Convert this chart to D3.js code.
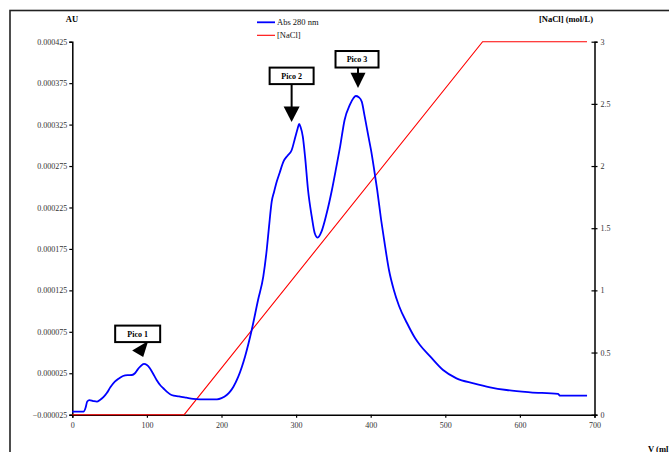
<!DOCTYPE html>
<html>
<head>
<meta charset="utf-8">
<script src="https://cdn.jsdelivr.net/npm/d3@7"></script>
<style>
  html, body { margin: 0; padding: 0; background: #fff; }
  svg { display: block; font-family: "Liberation Serif", "Times New Roman", serif; -webkit-font-smoothing: antialiased; }
</style>
</head>
<body>
<svg id="chart" width="669" height="452"></svg>
<script>
// Elution volume (mL) and absorbance at 280 nm (AU)
const volume = [0, 15, 18, 20, 23, 28, 33, 37, 42, 46, 51, 57, 63, 68, 74, 80, 84, 88, 91, 96,
  100, 104, 108, 113, 118, 122, 127, 133, 143, 153, 162, 171, 183, 194, 200, 207, 212, 216, 222.5, 231.5,
  240.5, 249, 256, 260.6, 263.7, 267.3, 270.5, 274, 278, 283, 289, 294, 298.5, 302, 304, 306, 309, 312,
  316, 321, 325, 329, 334, 341, 348, 354, 359, 365, 372, 377, 380, 384, 388, 392, 397, 400.4, 404.7, 408.7,
  414, 418, 424.5, 431, 438, 448.6, 459.4, 466, 480, 497, 515, 538, 560, 582, 614, 651, 654, 690];
const absorbance = [-0.0000214, -0.0000214, -0.000016, -0.000009, -0.0000073, -0.0000085, -0.0000093, -0.0000073, -0.0000035, 0.0000008,
  0.000008, 0.0000148, 0.000019, 0.0000217, 0.0000228, 0.0000229, 0.000025, 0.00003, 0.0000329, 0.0000362,
  0.000035, 0.000031, 0.000025, 0.0000169, 0.0000105, 0.0000069, 0.0000025, -0.0000012, -0.000003, -0.0000045,
  -0.0000058, -0.0000064, -0.0000066, -0.0000064, -0.000005, -0.0000012, 0.0000035, 0.0000088, 0.0000209, 0.000045,
  0.0000772, 0.0001134, 0.0001415, 0.0001737, 0.0002018, 0.000232, 0.000244, 0.000256, 0.000267, 0.0002803, 0.000288, 0.000294,
  0.0003085, 0.00032, 0.0003257, 0.000322, 0.0003104, 0.0002863,
  0.0002461, 0.0002139, 0.0001939, 0.0001886, 0.0001958, 0.000218, 0.0002461, 0.0002742, 0.0002984, 0.0003306,
  0.0003487, 0.000357, 0.0003595, 0.000358, 0.0003527, 0.0003346, 0.0003104, 0.0002944, 0.0002702, 0.0002461,
  0.0002099, 0.0001858, 0.0001496, 0.0001255, 0.0001062, 0.0000856, 0.0000675, 0.0000591, 0.000045, 0.0000289,
  0.0000189, 0.0000129, 0.0000081, 0.0000048, 0.000002, 0, -0.0000021, -0.0000021];

// NaCl gradient (mol/L)
const gradientVolume = [0, 150, 550, 690];
const gradientNaCl = [0, 0, 3, 3];

// Axis ticks
const xTicks = [0, 100, 200, 300, 400, 500, 600, 700];
const auTicks = [-0.000025, 0.000025, 0.000075, 0.000125, 0.000175, 0.000225, 0.000275, 0.000325, 0.000375, 0.000425];
const naclTicks = [0, 0.5, 1, 1.5, 2, 2.5, 3];

// Peak callouts: label, volume and absorbance at the arrow tip
const peakLabels = ["Pico 1", "Pico 2", "Pico 3"];
const peakVolume = [95, 294, 383];
const peakAbs = [0.0000445, 0.000328, 0.000369];

const svg = d3.select("#chart");

const x = d3.scaleLinear().domain([0, 700]).range([72.3, 594.5]);
const yAU = d3.scaleLinear().domain([-0.000025, 0.000425]).range([414.7, 41.7]);
const yNaCl = d3.scaleLinear().domain([0, 3]).range([414.7, 41.7]);

// Outer frame (runs past the right and bottom edges)
svg.append("rect")
  .attr("x", 10).attr("y", 10.5).attr("width", 720).attr("height", 520)
  .attr("fill", "none").attr("stroke", "#222").attr("stroke-width", 1.6);

// Axes
const gx = svg.append("g").attr("transform", `translate(0,${yAU.range()[0]})`)
  .call(d3.axisBottom(x).tickValues(xTicks).tickFormat(d3.format("d")).tickSize(3).tickPadding(5));
const gl = svg.append("g").attr("transform", `translate(${x.range()[0]},0)`)
  .call(d3.axisLeft(yAU).tickValues(auTicks).tickFormat(d3.format(".6f")).tickSize(3).tickPadding(2));
const gr = svg.append("g").attr("transform", `translate(${x.range()[1]},0)`)
  .call(d3.axisRight(yNaCl).tickValues(naclTicks).tickFormat(d => d).tickSize(3).tickPadding(3));
[gx, gl, gr].forEach(g => {
  g.select(".domain").attr("stroke", "#000").attr("stroke-width", 1.5);
  g.selectAll(".tick line").attr("stroke", "#000").attr("stroke-width", 1.2);
  g.selectAll(".tick text").attr("fill", "#333").attr("font-size", 8)
    .attr("font-family", "Liberation Serif");
});
gr.selectAll(".tick line").attr("x1", -3);

// Axis titles
svg.append("text").attr("x", 72).attr("y", 22).attr("text-anchor", "middle")
  .attr("font-size", 8.5).attr("font-weight", "bold").text("AU");
svg.append("text").attr("x", 566).attr("y", 22).attr("text-anchor", "middle")
  .attr("font-size", 8.5).attr("font-weight", "bold").text("[NaCl] (mol/L)");
svg.append("text").attr("x", 648).attr("y", 452).attr("text-anchor", "start")
  .attr("font-size", 8.5).attr("font-weight", "bold").text("V (ml)");

// NaCl gradient line
const naclLine = d3.line().x(d => x(d[0])).y(d => yNaCl(d[1]));
svg.append("path")
  .datum(d3.zip(gradientVolume, gradientNaCl))
  .attr("d", naclLine)
  .attr("fill", "none").attr("stroke", "#ff0000").attr("stroke-width", 1.1);

// Absorbance trace
const absLine = d3.line().x(d => x(d[0])).y(d => yAU(d[1])).curve(d3.curveMonotoneX);
svg.append("path")
  .datum(d3.zip(volume, absorbance))
  .attr("d", absLine)
  .attr("fill", "none").attr("stroke", "#0000ff").attr("stroke-width", 1.8)
  .attr("stroke-linejoin", "round");

// Legend
const legendItems = [
  { name: "Abs 280 nm", color: "#0000ff", w: 1.8 },
  { name: "[NaCl]", color: "#ff0000", w: 1.1 }
];
legendItems.forEach((d, i) => {
  const ly = 22.3 + i * 13;
  svg.append("line").attr("x1", 257).attr("x2", 275).attr("y1", ly).attr("y2", ly)
    .attr("stroke", d.color).attr("stroke-width", d.w);
  svg.append("text").attr("x", 277).attr("y", ly + 3).attr("font-size", 8.5)
    .attr("fill", "#111").text(d.name);
});

// Peak callouts: box, shaft and arrowhead
const callout = [
  { boxDx: -5.5, gap: 15, shaft: 0, w: 45, head: [[-11, -6.5], [5, -16], [0, 0]] },
  { boxDx: 0, gap: 38, shaft: 22, w: 44, head: [[-8, -15.5], [8, -15.5], [0, 0]] },
  { boxDx: -1, gap: 20.6, shaft: 5, w: 43, head: [[-7.5, -15.3], [7.5, -15.3], [0, 0]] }
];
peakLabels.forEach((label, i) => {
  const tx = x(peakVolume[i]), ty = yAU(peakAbs[i]);
  const c = callout[i];
  const boxBottom = ty - c.gap;
  const g = svg.append("g");
  g.append("path")
    .attr("d", "M" + c.head.map(p => [tx + p[0], ty + p[1]].join(",")).join("L") + "Z")
    .attr("fill", "#000");
  if (c.shaft > 0) {
    g.append("line").attr("x1", tx).attr("x2", tx)
      .attr("y1", boxBottom).attr("y2", boxBottom + c.shaft + 1)
      .attr("stroke", "#000").attr("stroke-width", 2);
  }
  g.append("rect")
    .attr("x", tx + c.boxDx - c.w / 2).attr("y", boxBottom - 16.5)
    .attr("width", c.w).attr("height", 16.5)
    .attr("fill", "#fff").attr("stroke", "#000").attr("stroke-width", 2);
  g.append("text")
    .attr("x", tx + c.boxDx).attr("y", boxBottom - 5.5)
    .attr("text-anchor", "middle").attr("font-size", 8).attr("font-weight", "bold")
    .text(label);
});
</script>
</body>
</html>
